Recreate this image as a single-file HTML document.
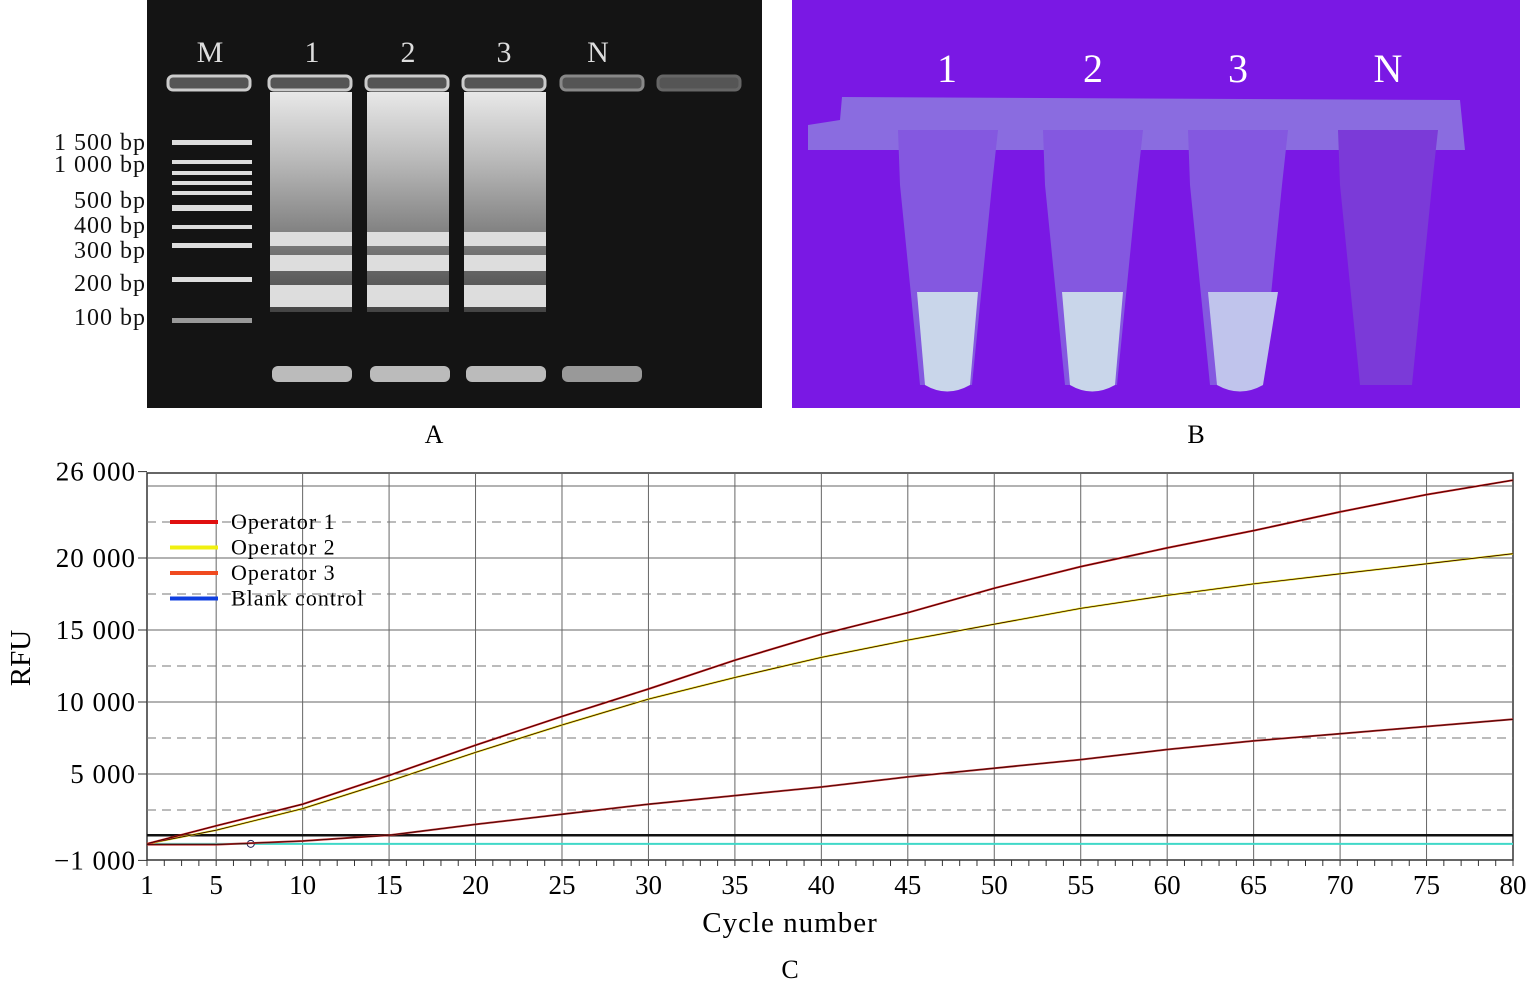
<!DOCTYPE html>
<html><head><meta charset="utf-8"><style>
body{margin:0;background:#fff;width:1531px;height:996px;overflow:hidden;font-family:"Liberation Serif",serif}
svg{position:absolute;left:0;top:0}
</style></head><body>
<svg width="1531" height="996" viewBox="0 0 1531 996">
<defs>
<linearGradient id="lane" x1="0" y1="0" x2="0" y2="1">
<stop offset="0" stop-color="#e8e8e8"/><stop offset="0.3" stop-color="#bbb"/><stop offset="0.6" stop-color="#888"/><stop offset="1" stop-color="#444"/></linearGradient>
</defs>
<g>
<rect x="147" y="0" width="615" height="408" fill="#141414"/>
<g fill="#ddd" font-size="30" text-anchor="middle">
<text x="210" y="62">M</text>
<text x="312" y="62">1</text>
<text x="408" y="62">2</text>
<text x="504" y="62">3</text>
<text x="598" y="62">N</text>
</g>
<g fill="#555" stroke="#ccc" stroke-width="3">
<rect x="168" y="76" width="82" height="14" rx="5"/><rect x="269" y="76" width="82" height="14" rx="5"/>
<rect x="366" y="76" width="82" height="14" rx="5"/><rect x="463" y="76" width="82" height="14" rx="5"/>
<rect x="561" y="76" width="82" height="14" rx="5" stroke="#888"/><rect x="658" y="76" width="82" height="14" rx="5" stroke="#666"/>
</g>
<rect x="270" y="92" width="82" height="220" fill="url(#lane)"/>
<rect x="367" y="92" width="82" height="220" fill="url(#lane)"/>
<rect x="464" y="92" width="82" height="220" fill="url(#lane)"/>
<g fill="#ddd">
<rect x="270" y="232" width="82" height="14"/><rect x="367" y="232" width="82" height="14"/><rect x="464" y="232" width="82" height="14"/>
<rect x="270" y="255" width="82" height="16"/><rect x="367" y="255" width="82" height="16"/><rect x="464" y="255" width="82" height="16"/>
<rect x="270" y="285" width="82" height="22"/><rect x="367" y="285" width="82" height="22"/><rect x="464" y="285" width="82" height="22"/>
</g>
<g fill="#bbb">
<rect x="272" y="366" width="80" height="16" rx="6"/><rect x="370" y="366" width="80" height="16" rx="6"/><rect x="466" y="366" width="80" height="16" rx="6"/><rect x="562" y="366" width="80" height="16" rx="6" fill="#999"/>
</g>
<g fill="#ddd">
<rect x="172" y="140" width="80" height="5"/><rect x="172" y="160" width="80" height="4"/><rect x="172" y="171" width="80" height="4"/>
<rect x="172" y="181" width="80" height="4"/><rect x="172" y="191" width="80" height="4"/><rect x="172" y="205" width="80" height="6"/>
<rect x="172" y="225" width="80" height="4"/><rect x="172" y="243" width="80" height="5"/><rect x="172" y="277" width="80" height="5"/><rect x="172" y="318" width="80" height="5" fill="#999"/>
</g>
</g>
<g font-size="24" fill="#111" text-anchor="end" letter-spacing="1">
<text x="146" y="150">1 500 bp</text><text x="146" y="172">1 000 bp</text><text x="146" y="208">500 bp</text>
<text x="146" y="233">400 bp</text><text x="146" y="258">300 bp</text><text x="146" y="291">200 bp</text><text x="146" y="325">100 bp</text>
</g>
<text x="434" y="443" font-size="26" text-anchor="middle">A</text>
<g>
<rect x="792" y="0" width="728" height="408" fill="#7a18e4"/>
<path d="M808 125 L840 120 L842 97 L1460 100 L1465 150 L808 150 Z" fill="#8a6ce0"/>
<g fill="#fff" font-size="40" text-anchor="middle">
<text x="947" y="82">1</text><text x="1093" y="82">2</text><text x="1238" y="82">3</text><text x="1388" y="82">N</text>
</g>
<g fill="#8458e0">
<path d="M898 130 L998 130 L992 185 L972 385 L920 385 L900 185 Z"/>
<path d="M1043 130 L1143 130 L1137 185 L1117 385 L1065 385 L1045 185 Z"/>
<path d="M1188 130 L1288 130 L1282 185 L1262 385 L1210 385 L1190 185 Z"/>
<path d="M1338 130 L1438 130 L1432 185 L1412 385 L1360 385 L1340 185 Z" fill="#7b3ad8"/>
</g>
<g fill="#c9d6ea">
<path d="M917 292 L978 292 L970 385 Q947 398 925 385 Z"/>
<path d="M1062 292 L1123 292 L1115 385 Q1092 398 1070 385 Z"/>
<path d="M1208 292 L1278 292 L1263 385 Q1240 398 1217 385 Z" fill="#c0c4ec"/>
</g>
</g>
<text x="1196" y="443" font-size="26" text-anchor="middle">B</text>
<g id="chart"></g>
<text x="790" y="932" font-size="29" text-anchor="middle" letter-spacing="1">Cycle number</text>
<text x="790" y="978" font-size="26" text-anchor="middle">C</text>
<text transform="translate(30,658) rotate(-90)" font-size="29" text-anchor="middle">RFU</text>
</svg>
<script>
const cycles=[1,5,10,15,20,25,30,35,40,45,50,55,60,65,70,75,80];
const operator1=[150,1400,2900,4900,7000,9000,10900,12900,14700,16200,17900,19400,20700,21900,23200,24400,25400];
const operator2=[150,1100,2600,4500,6500,8400,10200,11700,13100,14300,15400,16500,17400,18200,18900,19600,20300];
const operator3=[100,100,350,750,1500,2200,2900,3500,4100,4800,5400,6000,6700,7300,7800,8300,8800];
const blank=[150,150,150,150,150,150,150,150,150,150,150,150,150,150,150,150,150];
const yTicks=[26000,20000,15000,10000,5000,-1000];
const yTickLabels=["26 000","20 000","15 000","10 000","5 000","\u22121 000"];
const xTicks=[1,5,10,15,20,25,30,35,40,45,50,55,60,65,70,75,80];
const solidGrid=[25000,20000,15000,10000,5000];
const dashedGrid=[22500,17500,12500,7500,2500];
const threshold=750;
const NS="http://www.w3.org/2000/svg";
const X=c=>147+(c-1)*(1513-147)/79;
const Y=v=>846-v*0.0144;
const g=document.getElementById('chart');
function mk(t,a,p){const e=document.createElementNS(NS,t);for(const k in a)e.setAttribute(k,a[k]);(p||g).appendChild(e);return e;}
const plot=mk('rect',{x:147,y:473,width:1366,height:387,fill:'#fff',stroke:'#333','stroke-width':1.5});


xTicks.forEach(c=>{if(c>1&&c<80){const l=mk('line',{x1:X(c),x2:X(c),y1:473,y2:860,stroke:'#666','stroke-width':1});

}});
solidGrid.forEach(v=>{const l=mk('line',{x1:147,x2:1513,y1:Y(v),y2:Y(v),stroke:'#666','stroke-width':1});

});
dashedGrid.forEach(v=>{const l=mk('line',{x1:147,x2:1513,y1:Y(v),y2:Y(v),stroke:'#777','stroke-width':1,'stroke-dasharray':'9,6'});

});
for(let c=1;c<=80;c++){const l=mk('line',{x1:X(c),x2:X(c),y1:860,y2:866,stroke:'#333'});

}
xTicks.forEach(c=>{const t=mk('text',{x:X(c),y:894,'font-size':27,'text-anchor':'middle'});t.textContent=c;

});
yTicks.forEach((v,i)=>{mk('line',{x1:138,x2:147,y1:Y(v),y2:Y(v),stroke:'#333'});const t=mk('text',{x:136,y:Y(v)+9,'font-size':27,'text-anchor':'end','letter-spacing':1});t.textContent=yTickLabels[i];

});
const cy=mk('line',{x1:147,x2:1513,y1:Y(blank[0]),y2:Y(blank[0]),stroke:'#40d8c8','stroke-width':2});


const th=mk('line',{x1:147,x2:1513,y1:Y(threshold),y2:Y(threshold),stroke:'#111','stroke-width':2.5});


mk('circle',{cx:X(7),cy:Y(150),r:3.5,fill:'#fff',stroke:'#225'});
function series(vals,col,name){const d=vals.map((v,i)=>(i?'L':'M')+X(cycles[i]).toFixed(1)+' '+Y(v).toFixed(1)).join(' ');
const p=mk('path',{d:d,fill:'none',stroke:col,'stroke-width':2});


mk('path',{d:d,fill:'none',stroke:'#300','stroke-width':0.8});}
series(operator2,'#e6e620','operator-2-line');
series(operator1,'#d02020','operator-1-line');
series(operator3,'#c03030','operator-3-line');
const leg=[['Operator 1','#e01010'],['Operator 2','#f0f010'],['Operator 3','#f04a20'],['Blank control','#1040e0']];
leg.forEach((e,i)=>{const y=522+i*25.5;
const l=mk('line',{x1:170,x2:218,y1:y,y2:y,stroke:e[1],'stroke-width':4});


const t=mk('text',{x:231,y:y+7,'font-size':22,'letter-spacing':1});t.textContent=e[0];

});
</script>
</body></html>
